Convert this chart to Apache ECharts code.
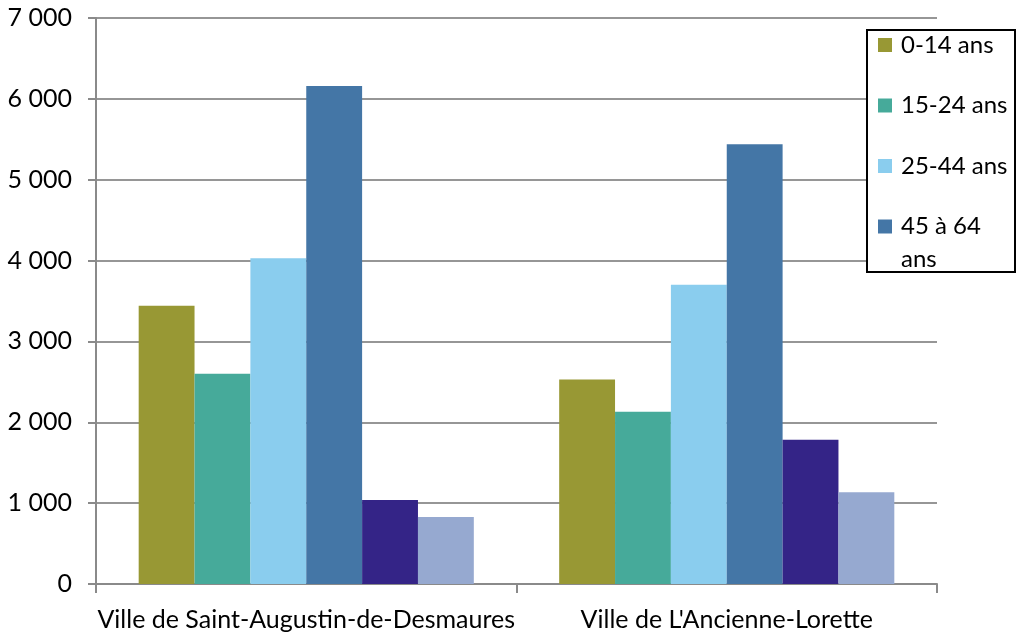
<!DOCTYPE html>
<html>
<head>
<meta charset="utf-8">
<script src="https://cdn.jsdelivr.net/npm/echarts@6/dist/echarts.min.js"></script>
<style>html,body{margin:0;padding:0;background:#fff}#c{width:1021px;height:637px}</style>
</head>
<body>
<div id="c"></div>
<script>
const categories = ['Ville de Saint-Augustin-de-Desmaures', "Ville de L'Ancienne-Lorette"];
const seriesNames = ['0-14 ans', '15-24 ans', '25-44 ans', '45 à 64 ans', '65 à 74 ans', '75 ans et plus'];
const legendNames = ['0-14 ans', '15-24 ans', '25-44 ans', '45 à 64 ans'];
const s0_14 = [3440, 2530];
const s15_24 = [2600, 2130];
const s25_44 = [4030, 3700];
const s45_64 = [6160, 5440];
const s65_74 = [1040, 1785];
const s75p = [830, 1135];
const seriesValues = [s0_14, s15_24, s25_44, s45_64, s65_74, s75p];
const yTicks = [0, 1000, 2000, 3000, 4000, 5000, 6000, 7000];

const colors = ['#989834', '#46aa9a', '#8acdee', '#4476a6', '#342487', '#96a9d0'];
const FONT = 'Lato';

const chart = echarts.init(document.getElementById('c'), null, {renderer: 'canvas'});
const fmt = v => v === 0 ? '0' : String(v).replace(/\B(?=(\d{3})+(?!\d))/g, ' ');

chart.setOption({
  animation: false,
  color: colors,
  textStyle: {fontFamily: FONT},
  grid: {left: 96, right: 84, top: 18, bottom: 53, containLabel: false},
  xAxis: {
    type: 'category',
    data: categories,
    axisLine: {show: true, lineStyle: {color: '#8a8a8a', width: 2}},
    axisTick: {show: true, alignWithLabel: false, length: 9, lineStyle: {color: '#8a8a8a', width: 2}},
    axisLabel: {color: '#000', fontSize: 25, margin: 23, interval: 0, fontFamily: FONT},
    splitLine: {show: false}
  },
  yAxis: {
    type: 'value',
    min: yTicks[0],
    max: yTicks[yTicks.length - 1],
    interval: 1000,
    axisLine: {show: true, lineStyle: {color: '#8a8a8a', width: 2}},
    axisTick: {show: true, inside: false, length: 8, lineStyle: {color: '#8a8a8a', width: 2}},
    axisLabel: {color: '#000', fontSize: 25, margin: 24, fontFamily: FONT, formatter: fmt},
    splitLine: {show: true, lineStyle: {color: '#969696', width: 2}}
  },
  legend: {
    data: legendNames,
    orient: 'vertical',
    left: 873,
    top: 26,
    padding: 5,
    itemWidth: 14,
    itemHeight: 14,
    itemGap: 32.5,
    icon: 'rect',
    formatter: n => n === '45 à 64 ans' ? '45 à 64' : n,
    textStyle: {color: '#000', fontSize: 24, lineHeight: 28, fontFamily: FONT, padding: [0, 0, 0, 4]},
    z: 10
  },
  graphic: [
    {type: 'rect', left: 866, top: 29, z: 5, shape: {width: 148, height: 242},
     style: {fill: '#fff', stroke: '#000', lineWidth: 2}},
    {type: 'text', left: 901, top: 247, z: 11,
     style: {text: 'ans', fill: '#000', font: '24px ' + FONT}}
  ],
  series: seriesNames.map((name, i) => ({
    name: name,
    type: 'bar',
    data: seriesValues[i],
    barGap: '0%',
    barCategoryGap: '20.3%',
    itemStyle: {color: colors[i]}
  }))
});
</script>
</body>
</html>
